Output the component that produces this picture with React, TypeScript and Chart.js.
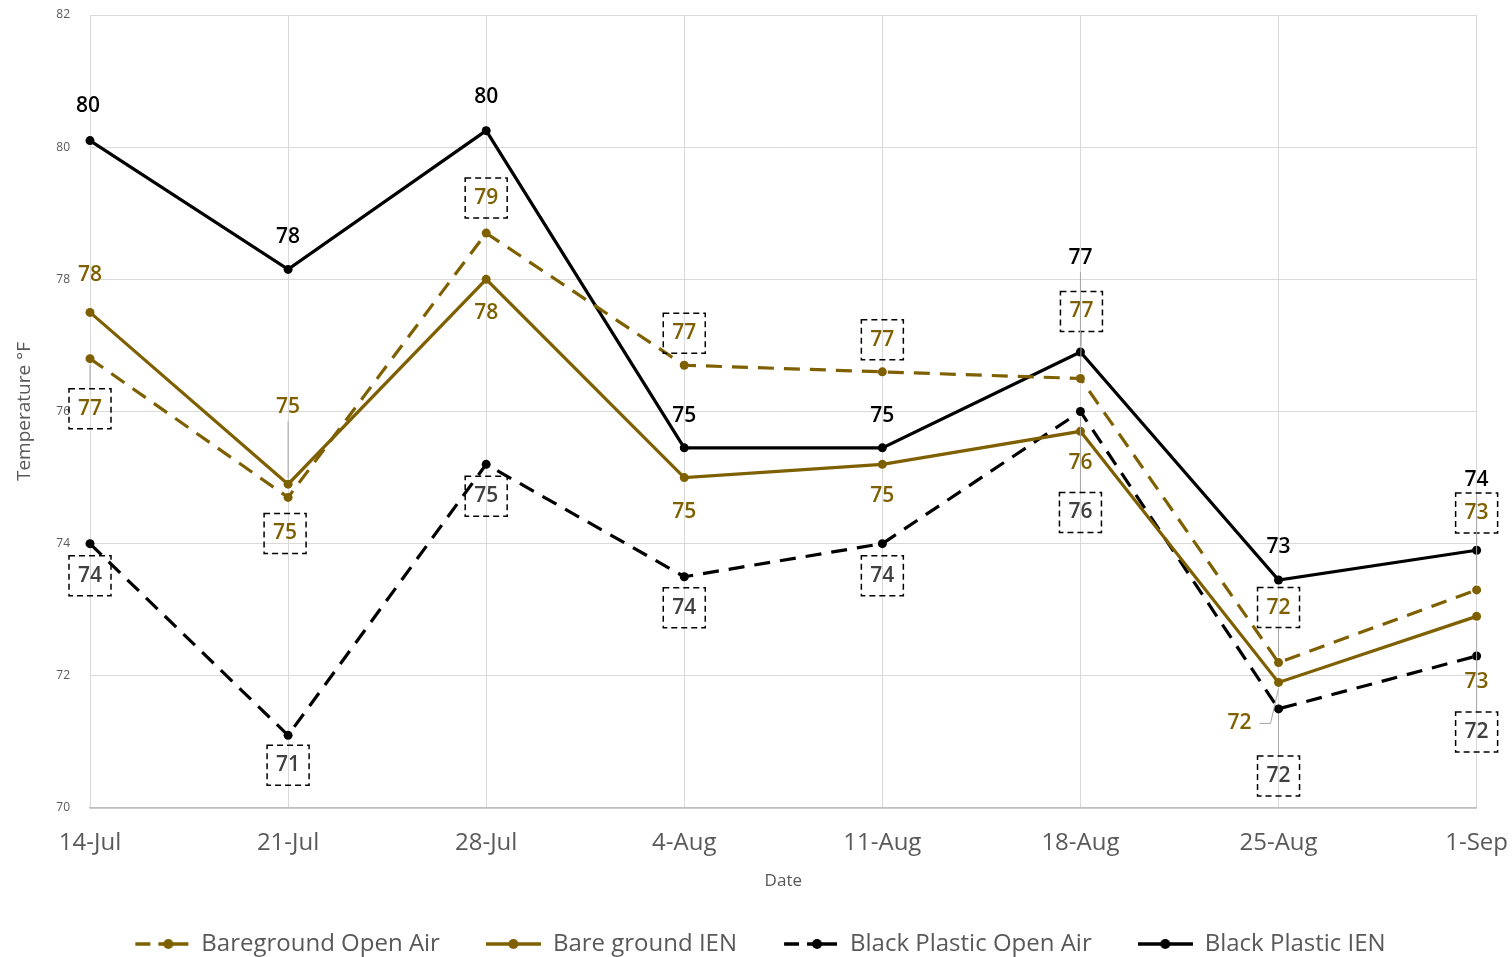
import React, { useEffect, useRef } from "react";
import { Chart, registerables } from "chart.js";

Chart.register(...registerables);

// ---- data ----
const dates = ["14-Jul", "21-Jul", "28-Jul", "4-Aug", "11-Aug", "18-Aug", "25-Aug", "1-Sep"];
const seriesNames = ["Bareground Open Air", "Bare ground IEN", "Black Plastic Open Air", "Black Plastic IEN"];
const baregroundOpenAir = [76.8, 74.7, 78.7, 76.7, 76.6, 76.5, 72.2, 73.3];
const baregroundIEN = [77.5, 74.9, 78.0, 75.0, 75.2, 75.7, 71.9, 72.9];
const blackPlasticOpenAir = [74.0, 71.1, 75.2, 73.5, 74.0, 76.0, 71.5, 72.3];
const blackPlasticIEN = [80.1, 78.15, 80.25, 75.45, 75.45, 76.9, 73.45, 73.9];
const yTicks = [70, 72, 74, 76, 78, 80, 82];

// ---- styles ----
const GOLD = "#7F6000";
const BLACK = "#000000";
const seriesColors = [GOLD, GOLD, BLACK, BLACK];
const seriesDashed = [true, false, true, false];
const labelBoxed = [true, false, true, false];
const labelColors = [GOLD, GOLD, "#404040", "#000000"];
// label offsets in pixels relative to each point
const labelOffsets: number[][][] = [
  [[0, 50], [-3, 36], [0, -35], [0, -32], [0, -32], [1, -67], [0, -55], [0, -77]],
  [[0, -37], [0, -77], [0, 34], [0, 34], [0, 32], [0, 32], [-39, 41], [0, 66]],
  [[0, 32], [0, 30], [0, 32], [0, 31], [0, 32], [0, 101], [0, 67], [0, 76]],
  [[-2, -35], [0, -32], [0, -34], [0, -32], [0, -32], [0, -94], [0, -33], [0, -70]],
];
const FONT = "'Open Sans', 'Noto Sans', sans-serif";
const ICON_W = 55;

function makeLegendIcon(color: string, dashed: boolean): HTMLCanvasElement {
  const c = document.createElement("canvas");
  c.width = ICON_W;
  c.height = 14;
  const g = c.getContext("2d")!;
  g.strokeStyle = color;
  g.fillStyle = color;
  g.lineWidth = 3.5;
  g.beginPath();
  if (dashed) {
    g.moveTo(1, 7);
    g.lineTo(16, 7);
    g.moveTo(24, 7);
    g.lineTo(54, 7);
  } else {
    g.moveTo(0, 7);
    g.lineTo(ICON_W, 7);
  }
  g.stroke();
  g.beginPath();
  g.arc(dashed ? 34 : ICON_W / 2, 7, 5, 0, Math.PI * 2);
  g.fill();
  return c;
}

const labelPlugin = {
  id: "pointValueLabels",
  afterDatasetsDraw(chart: any) {
    const ctx = chart.ctx;
    ctx.save();
    ctx.font = `600 21px ${FONT}`;
    ctx.textAlign = "center";
    ctx.textBaseline = "middle";
    chart.data.datasets.forEach((ds: any, di: number) => {
      const meta = chart.getDatasetMeta(di);
      meta.data.forEach((pt: any, i: number) => {
        const [dx, dy] = labelOffsets[di][i];
        const lx = pt.x + dx;
        const ly = pt.y + dy;
        const text = String(Math.round(ds.data[i]));
        const sideways = Math.abs(dx) > 10;
        // leader line
        if (Math.abs(dy) > 45 || sideways) {
          ctx.setLineDash([]);
          ctx.strokeStyle = "#a6a6a6";
          ctx.lineWidth = 1;
          ctx.beginPath();
          if (sideways) {
            ctx.moveTo(lx + 20, ly);
            ctx.lineTo(pt.x - 8, ly);
            ctx.lineTo(pt.x, pt.y + 6);
          } else {
            const half = labelBoxed[di] ? 20 : 14;
            ctx.moveTo(lx, ly + (dy > 0 ? -half : half));
            ctx.lineTo(pt.x, pt.y + (dy > 0 ? 6 : -6));
          }
          ctx.stroke();
        }
        if (labelBoxed[di]) {
          ctx.setLineDash([6, 4]);
          ctx.strokeStyle = "#000";
          ctx.lineWidth = 1.5;
          ctx.strokeRect(lx - 21, ly - 20, 42, 40);
        }
        ctx.fillStyle = labelColors[di];
        ctx.fillText(text, lx, ly);
      });
    });
    ctx.restore();
  },
};

export default function App() {
  const ref = useRef<HTMLCanvasElement | null>(null);

  useEffect(() => {
    if (!ref.current) return;
    const seriesValues = [baregroundOpenAir, baregroundIEN, blackPlasticOpenAir, blackPlasticIEN];
    const icons = seriesNames.map((_, i) => makeLegendIcon(seriesColors[i], seriesDashed[i]));
    const chart = new Chart(ref.current, {
      type: "line",
      data: {
        labels: dates,
        datasets: seriesNames.map((name, i) => ({
          label: name,
          data: seriesValues[i],
          borderColor: seriesColors[i],
          backgroundColor: seriesColors[i],
          borderWidth: 3.2,
          borderDash: seriesDashed[i] ? [16, 10] : [],
          pointRadius: 4.5,
          pointBackgroundColor: seriesColors[i],
          pointBorderColor: seriesColors[i],
          pointBorderWidth: 0,
          tension: 0,
          fill: false,
          clip: false as any,
        })),
      },
      options: {
        animation: false,
        responsive: false,
        maintainAspectRatio: false,
        layout: { padding: { left: 8, right: 0, top: 15, bottom: 0 } },
        plugins: {
          tooltip: { enabled: false },
          legend: {
            position: "bottom",
            maxHeight: 71,
            labels: {
              usePointStyle: true,
              pointStyleWidth: ICON_W,
              padding: 46,
              color: "#595959",
              font: { family: FONT, size: 24 },
              generateLabels: (ch: any) =>
                ch.data.datasets.map((ds: any, i: number) => ({
                  text: ds.label,
                  pointStyle: icons[i],
                  datasetIndex: i,
                  fontColor: "#595959",
                  hidden: false,
                  lineWidth: 0,
                  strokeStyle: "transparent",
                  fillStyle: "transparent",
                })),
            },
          },
        },
        scales: {
          x: {
            type: "category",
            offset: false,
            grid: { color: "#d9d9d9", drawTicks: true, tickLength: 17, tickColor: "transparent", lineWidth: 1 },
            border: { color: "#bfbfbf", width: 1.5 },
            ticks: {
              color: "#595959",
              font: { family: FONT, size: 24 },
              padding: 4,
              maxRotation: 0,
              autoSkip: false,
            },
            title: {
              display: true,
              text: "Date",
              color: "#595959",
              font: { family: FONT, size: 17 },
              padding: { top: 0, bottom: -5 },
            },
            afterFit: (s: any) => {
              s.height = 78;
            },
          },
          y: {
            min: yTicks[0],
            max: yTicks[yTicks.length - 1],
            afterBuildTicks: (s: any) => {
              s.ticks = yTicks.map((v) => ({ value: v }));
            },
            ticks: {
              color: "#595959",
              font: { family: FONT, size: 12 },
              padding: 0,
            },
            grid: { color: "#d9d9d9", drawTicks: true, tickLength: 20, tickColor: "transparent", lineWidth: 1 },
            border: { display: false },
            title: {
              display: true,
              text: "Temperature °F",
              color: "#595959",
              font: { family: FONT, size: 19 },
              padding: { top: 5, bottom: 0 },
            },
            afterFit: (s: any) => {
              s.width = 82;
            },
          },
        },
      },
      plugins: [labelPlugin],
    } as any);
    return () => chart.destroy();
  }, []);

  return (
    <div style={{ position: "fixed", left: 0, top: 0, width: 1512, height: 957, background: "#fff" }}>
      <canvas ref={ref} width={1512} height={957} style={{ display: "block", width: 1512, height: 957 }} />
    </div>
  );
}
